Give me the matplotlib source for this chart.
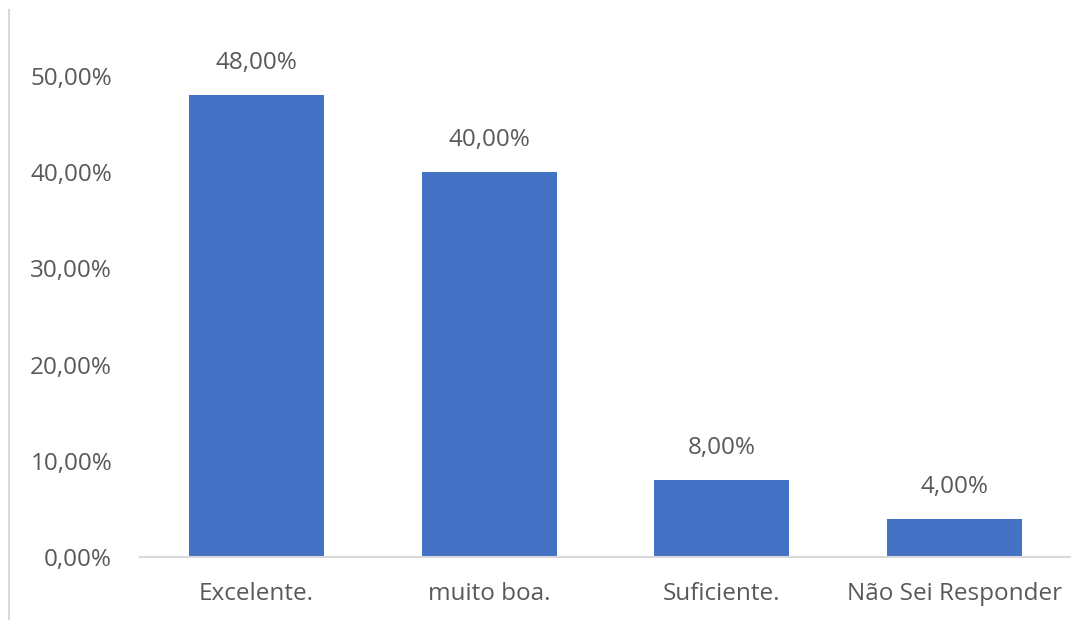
import matplotlib

matplotlib.use("Agg")
import matplotlib.pyplot as plt
from matplotlib.lines import Line2D
from matplotlib.ticker import FuncFormatter

categories = ["Excelente.", "muito boa.", "Suficiente.", "Não Sei Responder"]
values = [0.48, 0.40, 0.08, 0.04]
y_ticks = [0.0, 0.1, 0.2, 0.3, 0.4, 0.5]

BAR_COLOR = "#4472C4"
TEXT_COLOR = "#595959"
LINE_COLOR = "#D9D9D9"


def pct(v, _pos=None):
    return f"{v * 100:.2f}%".replace(".", ",")


plt.rcParams["font.family"] = ["Open Sans", "DejaVu Sans"]

fig = plt.figure(figsize=(10.71, 6.2), dpi=100)
ax = fig.add_axes([0.1307, 0.1016, 0.8693, 0.7758])

x = range(len(categories))
ax.bar(x, values, width=0.58, color=BAR_COLOR, zorder=2)
for xi, v in zip(x, values):
    ax.annotate(pct(v), (xi, v), xytext=(0, 23), textcoords="offset points",
                ha="center", va="center", fontsize=17.5, color=TEXT_COLOR,
                annotation_clip=False)

ax.set_xlim(-0.5, len(categories) - 0.5)
ax.set_ylim(0, 0.5)
ax.set_yticks(y_ticks)
ax.yaxis.set_major_formatter(FuncFormatter(pct))
ax.set_xticks(list(x))
ax.set_xticklabels(categories)

for side in ("top", "right", "left"):
    ax.spines[side].set_visible(False)
ax.spines["bottom"].set_color(LINE_COLOR)
ax.spines["bottom"].set_linewidth(1.5)
ax.tick_params(axis="both", length=0, labelsize=17.5, colors=TEXT_COLOR)
ax.tick_params(axis="y", pad=20)
ax.tick_params(axis="x", pad=18)

# thin border on the left edge of the picture
fig.add_artist(Line2D([9 / 1071, 9 / 1071], [0, 1 - 10 / 620],
                      transform=fig.transFigure, color=LINE_COLOR, linewidth=1.5))

fig.savefig("out.png", dpi=100)
plt.close(fig)
